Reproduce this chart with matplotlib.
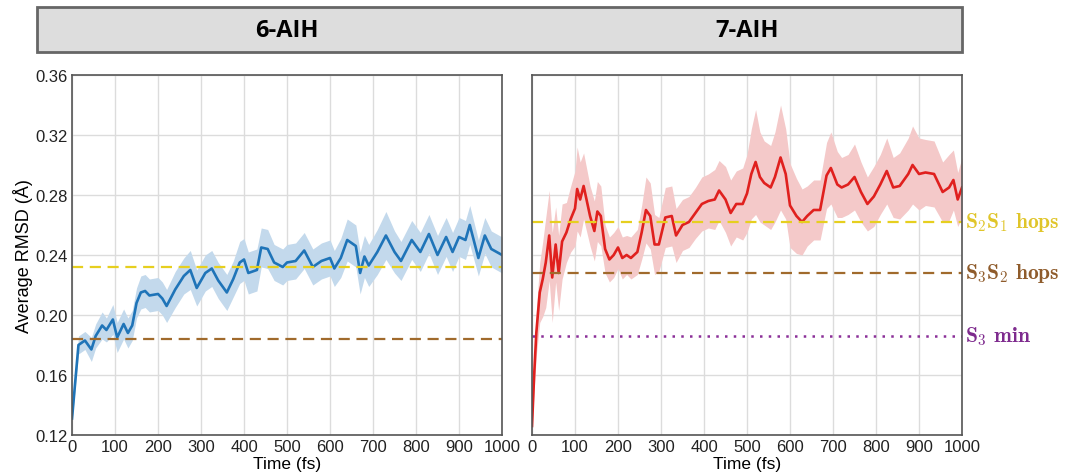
import numpy as np
import matplotlib
matplotlib.use("Agg")
from matplotlib import pyplot as plt
from matplotlib.patches import Rectangle

plt.rcParams['font.family'] = ['Liberation Sans', 'DejaVu Sans']
plt.rcParams['mathtext.fontset'] = 'cm'

# 6-AIH (blue)
t_6 = [0, 15, 20, 30, 45, 55, 70, 80, 95, 105, 120, 130, 140, 150, 160, 170, 180, 200,
       210, 220, 240, 260, 275, 290, 310, 325, 340, 360, 375, 390, 400, 410, 430, 440,
       455, 470, 490, 500, 520, 540, 560, 580, 600, 610, 625, 640, 660, 670, 680, 690,
       710, 730, 750, 765, 790, 810, 830, 850, 870, 885, 900, 915, 925, 945, 960, 975, 1000]
rmsd_6 = [0.131, 0.180, 0.181, 0.183, 0.177, 0.186, 0.193, 0.190, 0.197, 0.185, 0.194,
          0.188, 0.193, 0.208, 0.215, 0.216, 0.213, 0.214, 0.211, 0.206, 0.217, 0.226,
          0.230, 0.218, 0.228, 0.231, 0.223, 0.215, 0.224, 0.235, 0.237, 0.228, 0.230,
          0.245, 0.244, 0.235, 0.232, 0.235, 0.236, 0.243, 0.232, 0.236, 0.238, 0.231,
          0.238, 0.250, 0.246, 0.228, 0.239, 0.233, 0.242, 0.253, 0.242, 0.236, 0.250,
          0.242, 0.254, 0.240, 0.252, 0.242, 0.252, 0.250, 0.260, 0.238, 0.253, 0.244, 0.240]
spread_6 = [0.002, 0.006, 0.006, 0.006, 0.008, 0.008, 0.009, 0.008, 0.010, 0.010, 0.010,
            0.010, 0.010, 0.010, 0.011, 0.011, 0.011, 0.011, 0.011, 0.011, 0.012, 0.012,
            0.013, 0.012, 0.012, 0.012, 0.012, 0.012, 0.012, 0.014, 0.014, 0.014, 0.014,
            0.013, 0.013, 0.012, 0.012, 0.012, 0.012, 0.012, 0.012, 0.012, 0.012, 0.012,
            0.013, 0.014, 0.014, 0.014, 0.014, 0.014, 0.015, 0.016, 0.014, 0.013, 0.013,
            0.013, 0.013, 0.013, 0.013, 0.013, 0.013, 0.013, 0.013, 0.012, 0.012, 0.012, 0.012]

# 7-AIH (red)
t_7 = [0, 5, 10, 18, 25, 32, 40, 47, 55, 62, 70, 80, 90, 100, 105, 112, 120, 135, 145,
       152, 160, 170, 180, 190, 200, 210, 220, 230, 245, 255, 265, 275, 285, 295, 310,
       325, 335, 350, 365, 380, 395, 410, 425, 435, 450, 462, 475, 490, 500, 510, 520,
       530, 540, 555, 565, 578, 590, 600, 615, 628, 640, 655, 670, 685, 695, 710, 720,
       735, 750, 765, 780, 795, 810, 825, 840, 855, 875, 885, 900, 915, 935, 955, 970,
       980, 990, 1000]
rmsd_7 = [0.126, 0.160, 0.188, 0.215, 0.224, 0.235, 0.253, 0.225, 0.247, 0.228, 0.249,
          0.255, 0.264, 0.271, 0.284, 0.277, 0.286, 0.266, 0.256, 0.269, 0.266, 0.244,
          0.237, 0.240, 0.245, 0.238, 0.240, 0.238, 0.242, 0.255, 0.270, 0.266, 0.247,
          0.247, 0.265, 0.266, 0.253, 0.260, 0.262, 0.268, 0.274, 0.276, 0.277, 0.283,
          0.277, 0.268, 0.274, 0.274, 0.281, 0.294, 0.302, 0.292, 0.288, 0.285, 0.292,
          0.305, 0.294, 0.273, 0.266, 0.262, 0.266, 0.270, 0.270, 0.293, 0.298, 0.287,
          0.285, 0.287, 0.292, 0.282, 0.274, 0.279, 0.287, 0.296, 0.285, 0.286, 0.294,
          0.300, 0.294, 0.295, 0.294, 0.282, 0.285, 0.290, 0.277, 0.285]
spread_7 = [0.002, 0.010, 0.015, 0.020, 0.025, 0.030, 0.030, 0.030, 0.025, 0.025, 0.025,
            0.020, 0.022, 0.025, 0.028, 0.025, 0.022, 0.020, 0.020, 0.020, 0.020, 0.016,
            0.015, 0.015, 0.014, 0.014, 0.013, 0.014, 0.015, 0.018, 0.022, 0.022, 0.020,
            0.018, 0.020, 0.020, 0.018, 0.017, 0.017, 0.017, 0.018, 0.018, 0.020, 0.020,
            0.022, 0.022, 0.022, 0.024, 0.026, 0.030, 0.035, 0.030, 0.028, 0.028, 0.030,
            0.035, 0.030, 0.028, 0.025, 0.022, 0.020, 0.020, 0.020, 0.022, 0.024, 0.022,
            0.020, 0.020, 0.022, 0.020, 0.018, 0.020, 0.020, 0.022, 0.020, 0.022, 0.024,
            0.026, 0.024, 0.022, 0.022, 0.020, 0.022, 0.020, 0.018, 0.020]

# reference levels
s2s1_6, s3s2_6 = 0.232, 0.184
s2s1_7, s3s2_7, s3min_7 = 0.262, 0.228, 0.186

titles = ['6-AIH', '7-AIH']
yticks = [0.12, 0.16, 0.20, 0.24, 0.28, 0.32, 0.36]
xticks = [0, 100, 200, 300, 400, 500, 600, 700, 800, 900, 1000]

yellow = '#e6cf1f'
brown = '#a06a2c'
purple = '#8b2f98'

fig = plt.figure(figsize=(10.67, 4.77), dpi=100)

# header bar
fig.patches.append(Rectangle((0.0347, 0.889), 0.867, 0.0943, transform=fig.transFigure,
                             facecolor='#dddddd', edgecolor='#666666', linewidth=2))
ax1 = fig.add_axes([0.0675, 0.086, 0.403, 0.7547])
ax2 = fig.add_axes([0.4986, 0.086, 0.403, 0.7547])

def style(ax):
    ax.set_xlim(0, 1000)
    ax.set_ylim(0.12, 0.36)
    ax.set_xticks(xticks)
    ax.set_yticks(yticks)
    ax.grid(True, color='#dcdcdc', linewidth=1)
    ax.set_axisbelow(True)
    ax.tick_params(length=0, labelsize=12, pad=3, colors='#222222')
    for s in ax.spines.values():
        s.set_color('#555555')
        s.set_linewidth(1.2)
    ax.set_xlabel('Time (fs)', fontsize=12.5, labelpad=1)

style(ax1)
style(ax2)

t6 = np.array(t_6); r6 = np.array(rmsd_6); e6 = np.array(spread_6)
ax1.fill_between(t6, r6 - e6, r6 + e6, color='#c3d9ec', linewidth=0)
ax1.plot(t6, r6, color='#1f74b8', lw=1.9)
ax1.axhline(s2s1_6, color=yellow, ls=(0, (5, 3)), lw=1.6)
ax1.axhline(s3s2_6, color=brown, ls=(0, (5, 3)), lw=1.6)
ax1.set_yticklabels(['%.2f' % v for v in yticks])
ax1.set_ylabel('Average RMSD (Å)', fontsize=13, labelpad=2)

t7 = np.array(t_7); r7 = np.array(rmsd_7); e7 = np.array(spread_7)
ax2.fill_between(t7, r7 - e7, r7 + e7, color='#f4c9c9', linewidth=0)
ax2.plot(t7, r7, color='#e0201e', lw=1.9)
ax2.axhline(s2s1_7, color=yellow, ls=(0, (5, 3)), lw=1.6)
ax2.axhline(s3s2_7, color=brown, ls=(0, (5, 3)), lw=1.6)
ax2.axhline(s3min_7, color=purple, ls=(0, (1, 2.5)), lw=1.8)
ax2.set_yticklabels([])

ax2.text(1008, s2s1_7, r'$\mathbf{S_2S_1\ hops}$', color='#e0c52a', fontsize=15.5,
         va='center', ha='left', clip_on=False)
ax2.text(1008, s3s2_7, r'$\mathbf{S_3S_2\ hops}$', color='#8f5c2c', fontsize=15.5,
         va='center', ha='left', clip_on=False)
ax2.text(1008, s3min_7, r'$\mathbf{S_3\ min}$', color='#7e2b8e', fontsize=15.5,
         va='center', ha='left', clip_on=False)

for ax, title in zip([ax1, ax2], titles):
    x0 = ax.get_position().x0 + ax.get_position().width / 2
    fig.text(x0, 0.936, title, ha='center', va='center', fontsize=17,
             fontweight='bold', family=['Open Sans', 'DejaVu Sans'])

fig.savefig('out.png', dpi=100)
